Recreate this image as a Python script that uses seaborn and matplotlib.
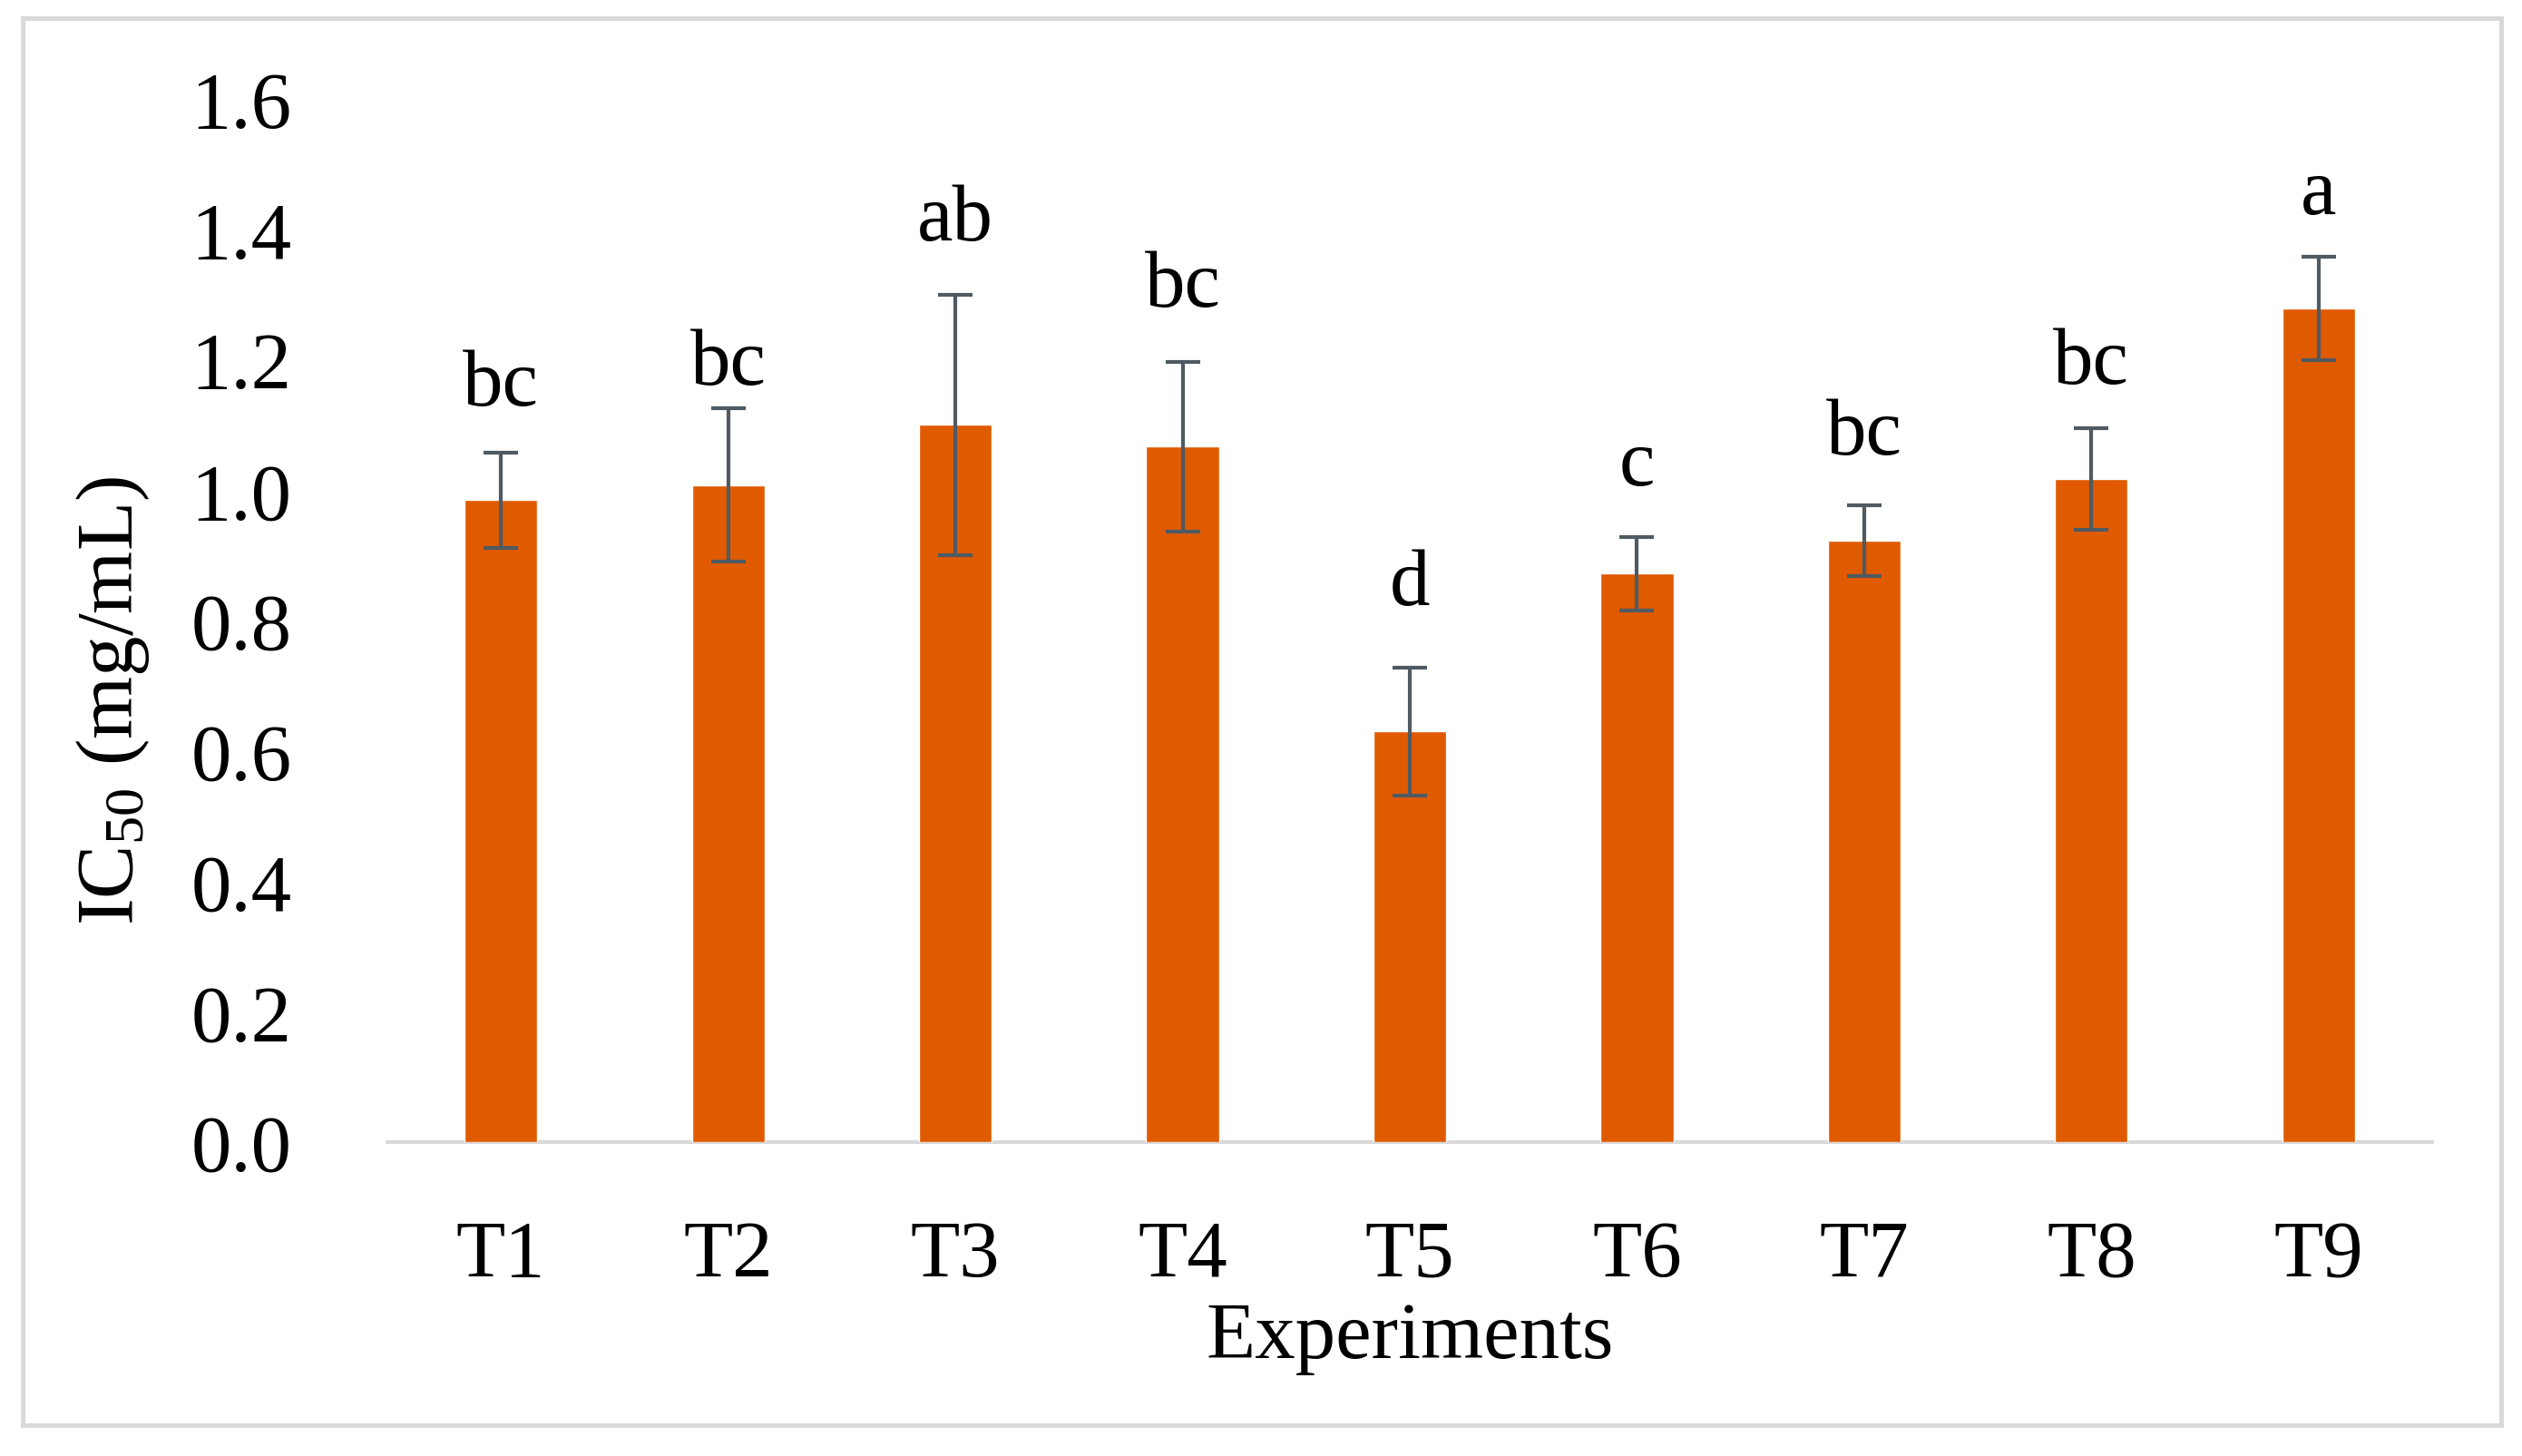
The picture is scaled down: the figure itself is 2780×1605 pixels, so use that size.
import matplotlib
matplotlib.use("Agg")
import matplotlib.pyplot as plt
from matplotlib.patches import Rectangle
import seaborn as sns
import pandas as pd

# ---- data ----
experiments = ["T1", "T2", "T3", "T4", "T5", "T6", "T7", "T8", "T9"]
ic50_means = [0.985, 1.008, 1.10, 1.067, 0.63, 0.872, 0.922, 1.017, 1.279]
ic50_errors = [0.073, 0.117, 0.20, 0.13, 0.098, 0.056, 0.054, 0.078, 0.079]
letters = ["bc", "bc", "ab", "bc", "d", "c", "bc", "bc", "a"]
# gap between top of error bar and letter baseline (data units)
letter_gaps = [0.073, 0.038, 0.084, 0.086, 0.097, 0.080, 0.080, 0.070, 0.066]
y_ticks = [0.0, 0.2, 0.4, 0.6, 0.8, 1.0, 1.2, 1.4, 1.6]

df = pd.DataFrame({"Experiment": experiments, "IC50": ic50_means})

sns.set_style("white")
plt.rcParams["font.family"] = ["Liberation Serif", "DejaVu Serif"]
plt.rcParams["mathtext.fontset"] = "custom"
plt.rcParams["mathtext.rm"] = "Liberation Serif"
plt.rcParams["mathtext.it"] = "Liberation Serif:italic"
plt.rcParams["text.color"] = "black"
plt.rcParams["axes.labelcolor"] = "black"
plt.rcParams["xtick.color"] = "black"
plt.rcParams["ytick.color"] = "black"

FS = 64
BAR = "#E05A00"
ERR = "#4F5A62"
GRID = "#D9D9D9"

fig = plt.figure(figsize=(27.8, 16.06), dpi=100)
ax = fig.add_axes([427 / 2780, 1 - 1260 / 1606, (2681 - 427) / 2780, 1150 / 1606])

sns.barplot(data=df, x="Experiment", y="IC50", color=BAR, width=0.32,
            errorbar=None, saturation=1, ax=ax, zorder=2)

xs = list(range(len(experiments)))
ax.errorbar(xs, ic50_means, yerr=ic50_errors, fmt="none", ecolor=ERR,
            elinewidth=3.0, capsize=14, capthick=3.0, zorder=3)

for x, m, e, g, lab in zip(xs, ic50_means, ic50_errors, letter_gaps, letters):
    ax.text(x, m + e + g, lab, ha="center", va="baseline",
            fontsize=FS, color="black", zorder=4)

ax.set_xlim(-0.5, len(experiments) - 0.5)
ax.set_ylim(0, 1.6)
ax.set_yticks(y_ticks)
ax.set_yticklabels([f"{t:.1f}" for t in y_ticks], fontsize=FS)
ax.tick_params(axis="x", length=0, pad=61, labelsize=FS, colors="black")
ax.tick_params(axis="y", length=0, pad=76, labelsize=FS, colors="black")

for s in ["top", "right", "left"]:
    ax.spines[s].set_visible(False)
ax.spines["bottom"].set_color(GRID)
ax.spines["bottom"].set_linewidth(3)
ax.spines["bottom"].set_zorder(1)

ax.set_xlabel("Experiments", fontsize=FS, va="center", color="black")
ax.xaxis.set_label_coords(0.5, -0.187)
ax.set_ylabel("IC$_{\\mathrm{50}}$ (mg/mL)", fontsize=FS, va="center", color="black")
ax.yaxis.set_label_coords(-0.134, 0.424)

fig.patches.append(Rectangle((25 / 2780, 1 - 1572 / 1606),
                             (2757 - 25) / 2780, (1572 - 21) / 1606,
                             transform=fig.transFigure, fill=False,
                             edgecolor=GRID, linewidth=3.6))

fig.savefig("out.png", dpi=100, facecolor="white")
